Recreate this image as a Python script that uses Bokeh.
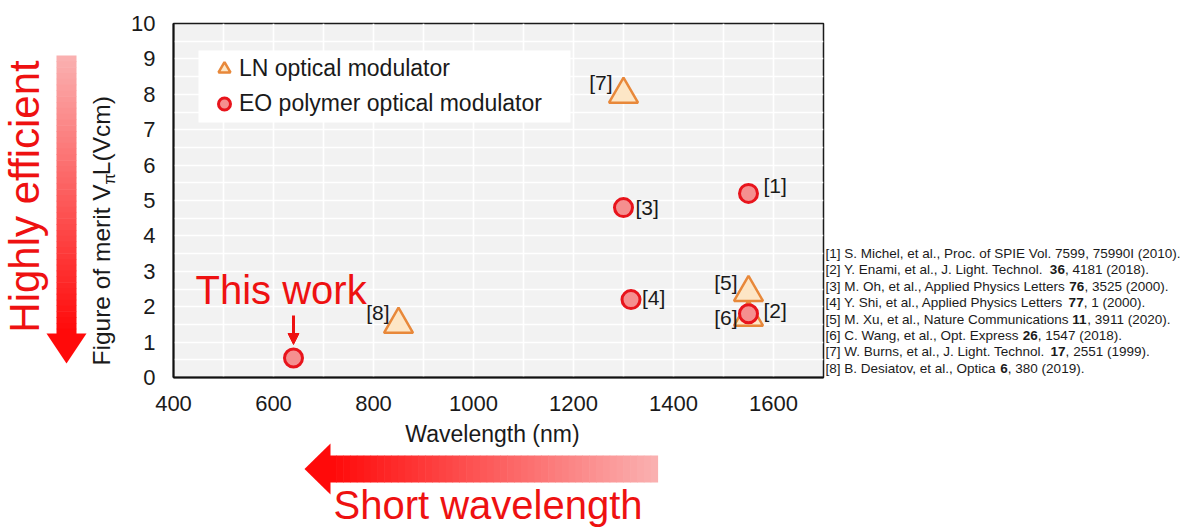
import numpy as np
from bokeh.plotting import figure
from bokeh.layouts import row, column
from bokeh.models import (Legend, LegendItem, Label, BoxAnnotation, Arrow, NormalHead,
                          SingleIntervalTicker, FixedTicker, ColumnDataSource, Range1d)
from bokeh.core.properties import value
from bokeh.embed import file_html
from bokeh.resources import INLINE

# ---------------- data ----------------
ln_wavelength = [1300, 1550, 1550, 850]
ln_fom = [8.0, 2.4, 1.7, 1.5]
ln_refs = ["[7]", "[5]", "[6]", "[8]"]

eo_wavelength = [640, 1550, 1550, 1300, 1315]
eo_fom = [0.55, 5.2, 1.8, 4.8, 2.2]
eo_refs = ["", "[1]", "[2]", "[3]", "[4]"]

x_ticks = [400, 600, 800, 1000, 1200, 1400, 1600]
y_ticks = [0, 1, 2, 3, 4, 5, 6, 7, 8, 9, 10]

series_names = ["LN optical modulator", "EO polymer optical modulator"]

# reference list: (plain part, bold part, tail)
references = [
    ("[1] S. Michel, et al., Proc. of SPIE Vol. 7599, 75990I (2010).", "", ""),
    ("[2] Y. Enami, et al., J. Light. Technol. ", "36", ", 4181 (2018)."),
    ("[3] M. Oh, et al., Applied Physics Letters ", "76", ", 3525 (2000)."),
    ("[4] Y. Shi, et al., Applied Physics Letters ", "77", ", 1 (2000)."),
    ("[5] M. Xu, et al., Nature Communications ", "11", ", 3911 (2020)."),
    ("[6] C. Wang, et al., Opt. Express ", "26", ", 1547 (2018)."),
    ("[7] W. Burns, et al., J. Light. Technol. ", "17", ", 2551 (1999)."),
    ("[8] B. Desiatov, et al., Optica ", "6", ", 380 (2019)."),
]

# ---------------- geometry / styling ----------------
FONT = "Liberation Sans"
RED = "#ee1111"
INK = "#1a1a1a"
TOTAL_W, TOTAL_H = 1188, 527
LEFT_W = 120                   # left decoration panel
FL, FT, FW, FH = 173, 23, 650, 354   # frame in page pixels
MAIN_BR = 2
MAIN_W = (FL - LEFT_W) + FW + MAIN_BR
TOP_H = 421
BORDER_B = TOP_H - FT - FH
RIGHT_W = TOTAL_W - LEFT_W - MAIN_W
BOT_H = TOTAL_H - TOP_H
PX0, PY0 = FL, FT + FH
MID = 0.35   # em offset from alphabetic baseline to text middle


def sx(X):
    return X - PX0


def sy(Y):
    return PY0 - Y


AW = {' ': 278, '[': 278, ']': 278, '.': 278, ',': 278, '(': 333, ')': 333,
      'A': 667, 'B': 667, 'C': 722, 'D': 722, 'E': 667, 'F': 611, 'G': 778, 'H': 722,
      'I': 278, 'J': 500, 'K': 667, 'L': 556, 'M': 833, 'N': 722, 'O': 778, 'P': 667,
      'Q': 778, 'R': 722, 'S': 667, 'T': 611, 'U': 722, 'V': 667, 'W': 944, 'X': 667,
      'Y': 667, 'Z': 611,
      'a': 556, 'b': 556, 'c': 500, 'd': 556, 'e': 556, 'f': 278, 'g': 556, 'h': 556,
      'i': 222, 'j': 222, 'k': 500, 'l': 222, 'm': 833, 'n': 556, 'o': 556, 'p': 556,
      'q': 556, 'r': 333, 's': 500, 't': 278, 'u': 556, 'v': 500, 'w': 722, 'x': 500,
      'y': 500, 'z': 500}


def tw(s, size):
    return sum(AW.get(c, 556) for c in s) / 1000.0 * size


def deco_fig(w, h, x0, x1, y_top, y_bot, bt=0, bb=0):
    f = figure(width=w, height=h, x_range=Range1d(x0, x1), y_range=Range1d(y_bot, y_top),
               x_axis_type=None, y_axis_type=None, output_backend="svg",
               toolbar_location=None, min_border=0, min_border_left=0, min_border_right=0,
               min_border_top=bt, min_border_bottom=bb)
    f.outline_line_color = None
    f.background_fill_color = "white"
    f.border_fill_color = "white"
    return f


def mix(c0, c1, t):
    r = [int(round(c0[k] + (c1[k] - c0[k]) * t)) for k in range(3)]
    return "#%02x%02x%02x" % tuple(r)


LIGHT = (250, 176, 176)
FULL = (255, 10, 10)
N = 48

# ---------------- main chart ----------------
p = figure(width=MAIN_W, height=TOP_H, x_range=Range1d(400, 1700), y_range=Range1d(0, 10),
           output_backend="svg", toolbar_location=None,
           min_border_left=FL - LEFT_W, min_border_right=MAIN_BR, min_border_top=FT,
           min_border_bottom=BORDER_B)

p.background_fill_color = "#f2f2f2"
p.border_fill_color = "white"
p.outline_line_color = INK
p.outline_line_width = 1.5

p.xgrid.ticker = SingleIntervalTicker(interval=100)
p.ygrid.ticker = SingleIntervalTicker(interval=0.5)
for g in (p.xgrid[0], p.ygrid[0]):
    g.grid_line_color = "white"
    g.grid_line_width = 1.6
    g.grid_line_alpha = 1.0

p.xaxis.ticker = FixedTicker(ticks=x_ticks)
p.yaxis.ticker = FixedTicker(ticks=y_ticks)
for ax in (p.xaxis[0], p.yaxis[0]):
    ax.major_tick_line_color = None
    ax.minor_tick_line_color = None
    ax.major_tick_in = 0
    ax.major_tick_out = 0
    ax.axis_line_color = "#111111"
    ax.axis_line_width = 2
    ax.major_label_text_font = FONT
    ax.major_label_text_font_size = "22px"
    ax.major_label_text_color = INK
    ax.major_label_standoff = 18

# legend background box
p.add_layout(BoxAnnotation(left=sx(198), right=sx(570), bottom=sy(122), top=sy(50),
                           left_units="screen", right_units="screen",
                           bottom_units="screen", top_units="screen",
                           fill_color="white", fill_alpha=1.0, line_color=None))

ln_src = ColumnDataSource(dict(x=ln_wavelength, y=ln_fom, ref=ln_refs))
eo_src = ColumnDataSource(dict(x=eo_wavelength, y=eo_fom, ref=eo_refs))

tri = p.scatter("x", "y", source=ln_src, marker="triangle", size=29,
                fill_color="#fde6c6", line_color="#e8883a", line_width=2.5)
circ = p.scatter("x", "y", source=eo_src, marker="circle", size=18,
                 fill_color="#f58f8f", line_color="#e8141c", line_width=3)

lab_style = dict(text_font=value(FONT), text_font_size="21px", text_color=INK,
                 text_baseline="middle")
ln_dx = [-11, -11, -11, -9]
ln_dy = [-12, -10, 0, -12]
p.text(x=ln_wavelength, y=ln_fom, text=ln_refs, x_offset=ln_dx, y_offset=ln_dy,
       text_align="right", **lab_style)
eo_dx = [0, 15, 15, 12, 11]
eo_dy = [0, -8, -3, 0, -2]
p.text(x=eo_wavelength[1:], y=eo_fom[1:], text=eo_refs[1:], x_offset=eo_dx[1:],
       y_offset=eo_dy[1:], text_align="left", **lab_style)

legend = Legend(items=[LegendItem(label=series_names[0], renderers=[tri]),
                       LegendItem(label=series_names[1], renderers=[circ])],
                location=(sx(209), sy(121)), padding=0, margin=0, spacing=0,
                glyph_width=30, glyph_height=35, label_standoff=0,
                label_text_font=FONT, label_text_font_size="23px",
                label_text_color=INK, background_fill_alpha=0,
                border_line_color=None)
p.add_layout(legend)

p.add_layout(Label(x=sx(195), y=sy(303 - MID * 39), x_units="screen", y_units="screen",
                   text="This work", text_font=FONT, text_font_size="40px",
                   text_color=RED, text_baseline="middle"))
p.add_layout(Arrow(end=NormalHead(size=11, fill_color=RED, line_color=RED),
                   x_start=sx(293), y_start=sy(315), x_end=sx(293), y_end=sy(344),
                   start_units="screen", end_units="screen",
                   line_color=RED, line_width=3))

# ---------------- left panel: arrow + y label ----------------
lf = deco_fig(LEFT_W, TOP_H, 0, LEFT_W, FT, FT + FH, bt=FT, bb=BORDER_B)
top, bot = 55, 334
ys = np.linspace(top, bot, N + 1)
lf.quad(left=56, right=76, top=ys[:-1], bottom=ys[1:] + 0.6,
        fill_color=[mix(LIGHT, FULL, k / (N - 1)) for k in range(N)], line_color=None)
lf.patch([46, 86, 66], [333, 333, 363], fill_color="#ff0a0a", line_color=None)
hs = 42
lf.text(x=[39 - MID * hs], y=[196], text=["Highly efficient"], angle=np.pi / 2,
        text_font=value(FONT), text_font_size=f"{hs}px", text_color=RED,
        text_align="center", text_baseline="middle")

f1, f2 = 24.5, 16
ybase, xb = 365, 110
t1, t3 = "Figure of merit V", "L(Vcm)"
y2 = ybase - tw(t1, f1)
y3 = y2 - 0.58 * f2
lf.text(x=[xb - MID * f1] * 2, y=[ybase, y3], text=[t1, t3], angle=np.pi / 2,
        text_font=value(FONT), text_font_size=f"{f1}px", text_color=INK,
        text_align="left", text_baseline="middle")
lf.text(x=[xb + 5 - MID * f2], y=[y2], text=["π"], angle=np.pi / 2,
        text_font=value(FONT), text_font_size=f"{f2}px", text_color=INK,
        text_align="left", text_baseline="middle")

# ---------------- right panel: references ----------------
x_start_right = LEFT_W + MAIN_W
rf = deco_fig(RIGHT_W, TOP_H, x_start_right, TOTAL_W, FT, FT + FH, bt=FT, bb=BORDER_B)
rs = 13.5
nx, ny, nt, bx, by, bt = [], [], [], [], [], []
for i, (a, b, c) in enumerate(references):
    yy = 253 + 16.4 * i
    x0 = 825
    for txt, bold in ((a, False), (b, True), (c, False)):
        if not txt:
            continue
        if bold:
            bx.append(x0); by.append(yy); bt.append(txt)
        else:
            nx.append(x0); ny.append(yy); nt.append(txt)
        x0 += tw(txt, rs)
rf.text(x=nx, y=ny, text=nt, text_font=value(FONT), text_font_size=f"{rs}px",
        text_color=INK, text_align="left", text_baseline="middle")
rf.text(x=bx, y=by, text=bt, text_font=value(FONT), text_font_size=f"{rs}px",
        text_font_style="bold", text_color=INK, text_align="left", text_baseline="middle")

# ---------------- bottom panel: x label + arrow ----------------
bf = deco_fig(TOTAL_W, BOT_H, 0, TOTAL_W, TOP_H, TOTAL_H)
bf.text(x=[492], y=[433], text=["Wavelength (nm)"], text_font=value(FONT),
        text_font_size="23px", text_color=INK, text_align="center", text_baseline="middle")
xs = np.linspace(329, 657, N + 1)
bf.quad(left=xs[:-1], right=xs[1:] + 0.6, top=455, bottom=482,
        fill_color=[mix(FULL, LIGHT, k / (N - 1)) for k in range(N)], line_color=None)
bf.patch([330, 330, 304], [443, 494, 468.5], fill_color="#ff0a0a", line_color=None)
ss = 40
bf.text(x=[333], y=[518 - MID * ss], text=["Short wavelength"], text_font=value(FONT),
        text_font_size=f"{ss}px", text_color=RED, text_align="left", text_baseline="middle")

layout = column(row(lf, p, rf), bf)
open("out.html", "w").write(file_html(layout, INLINE))
